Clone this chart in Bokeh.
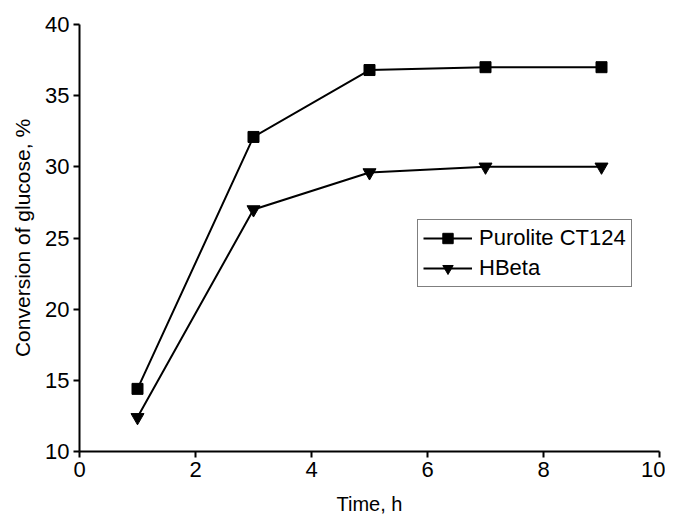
from bokeh.plotting import figure
from bokeh.models import Range1d, FixedTicker, Legend, LegendItem
from bokeh.embed import file_html
from bokeh.resources import INLINE

time_h = [1, 3, 5, 7, 9]
purolite = [14.4, 32.1, 36.8, 37.0, 37.0]
hbeta = [12.4, 27.0, 29.6, 30.0, 30.0]
x_ticks = [0, 2, 4, 6, 8, 10]
y_ticks = [10, 15, 20, 25, 30, 35, 40]

FONT = "Liberation Sans"

p = figure(width=665, height=517, output_backend="svg", toolbar_location=None,
           x_range=Range1d(0, 10), y_range=Range1d(10, 40),
           min_border_left=79, min_border_right=6, min_border_top=24, min_border_bottom=66)
p.outline_line_color = None
p.grid.visible = False
p.background_fill_color = "white"
p.border_fill_color = "white"

for ax, ticks in ((p.xaxis[0], x_ticks), (p.yaxis[0], y_ticks)):
    ax.ticker = FixedTicker(ticks=ticks)
    ax.minor_tick_line_color = None
    ax.major_tick_out = 6
    ax.major_tick_in = 0
    ax.axis_line_width = 2
    ax.major_tick_line_width = 2
    ax.axis_line_color = "black"
    ax.major_tick_line_color = "black"
    ax.major_label_text_font = FONT
    ax.major_label_text_font_size = "22px"
    ax.major_label_text_color = "black"
    ax.axis_label_text_font = FONT
    ax.axis_label_text_font_style = "normal"
    ax.axis_label_text_color = "black"

p.xaxis.axis_label = "Time, h"
p.yaxis.axis_label = "Conversion of glucose, %"
p.xaxis.axis_label_text_font_size = "20px"
p.yaxis.axis_label_text_font_size = "21px"
p.xaxis.major_label_standoff = 4
p.xaxis.axis_label_standoff = 13
p.yaxis.major_label_standoff = 4
p.yaxis.axis_label_standoff = 8

l1 = p.line(time_h, purolite, line_color="black", line_width=2)
m1 = p.scatter(time_h, purolite, marker="square", size=11, fill_color="black", line_color="black")
l2 = p.line(time_h, hbeta, line_color="black", line_width=2)
m2 = p.scatter(time_h, hbeta, marker="inverted_triangle", size=13, fill_color="black", line_color="black")

legend = Legend(items=[LegendItem(label="Purolite CT124", renderers=[l1, m1]),
                       LegendItem(label="HBeta", renderers=[l2, m2])],
                location=(338, 164))
legend.label_text_font = FONT
legend.label_text_font_size = "22px"
legend.label_text_color = "black"
legend.glyph_width = 49
legend.glyph_height = 26
legend.label_height = 26
legend.spacing = 4
legend.padding = 5
legend.margin = 0
legend.label_standoff = 7
legend.border_line_color = "black"
legend.border_line_width = 1
legend.background_fill_alpha = 1
p.add_layout(legend, "center")

open("out.html", "w").write(file_html(p, INLINE))
